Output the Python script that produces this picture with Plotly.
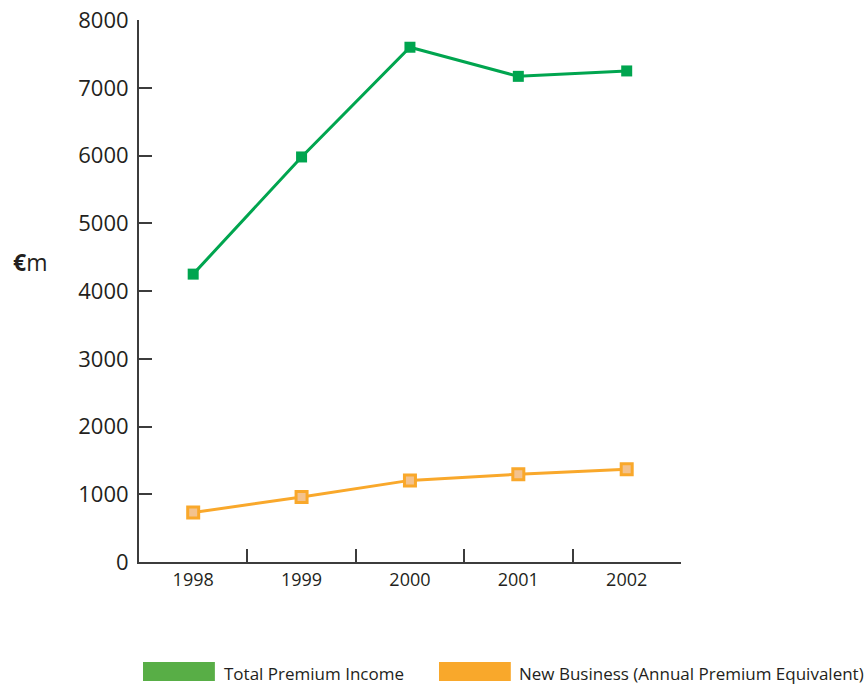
import plotly.graph_objects as go

years = ["1998", "1999", "2000", "2001", "2002"]
total_premium = [4250, 5980, 7600, 7170, 7250]
new_business = [730, 960, 1205, 1295, 1368]
y_ticks = [0, 1000, 2000, 3000, 4000, 5000, 6000, 7000, 8000]

GREEN = "#00A54F"
ORANGE = "#F9A82B"
TEXT = "#231F20"
AXIS = "#3C3C3C"
FONT = "Open Sans"

fig = go.Figure()
fig.add_trace(go.Scatter(
    x=years, y=total_premium, mode="lines+markers", name="Total Premium Income",
    line=dict(color=GREEN, width=3),
    marker=dict(symbol="square", size=11, color=GREEN, line=dict(width=0)),
))
fig.add_trace(go.Scatter(
    x=years, y=new_business, mode="lines+markers",
    name="New Business (Annual Premium Equivalent)",
    line=dict(color=ORANGE, width=3),
    marker=dict(symbol="square", size=11, color="#F3C28E",
                line=dict(width=3, color=ORANGE)),
))

fig.update_layout(
    width=866, height=684,
    margin=dict(l=139, r=185, t=20, b=122),
    paper_bgcolor="white", plot_bgcolor="white",
    showlegend=False,
    font=dict(family=FONT, color=TEXT),
    xaxis=dict(
        type="category", range=[-0.5, 4.501], tickson="boundaries",
        ticks="inside", ticklen=13, tickwidth=2, tickcolor=AXIS,
        showline=True, linewidth=2, linecolor=AXIS, showgrid=False,
        zeroline=False, tickfont=dict(size=18, color=TEXT),
        automargin=False,
    ),
    yaxis=dict(
        range=[0, 8002], tickmode="array", tickvals=y_ticks, ticks="inside",
        ticklen=13, tickwidth=2, tickcolor=AXIS, showline=True, linewidth=2,
        linecolor=AXIS, showgrid=False, zeroline=False,
        tickfont=dict(size=22, color=TEXT), automargin=False,
        ticklabelstandoff=4,
    ),
)

fig.add_annotation(
    text="<b>€</b>m", xref="paper", yref="paper", x=-0.236, y=0.5535,
    xanchor="left", yanchor="middle", showarrow=False,
    font=dict(size=23, color=TEXT, family=FONT),
)

legend_items = [
    ("Total Premium Income", "#58AE46", 0.0074, 0.140, 0.153),
    ("New Business (Annual Premium Equivalent)", ORANGE, 0.5535, 0.686, 0.697),
]
for label, col, x0, x1, xt in legend_items:
    fig.add_shape(type="rect", xref="paper", yref="paper", x0=x0, x1=x1,
                  y0=-0.2196, y1=-0.1845, fillcolor=col, line=dict(width=0))
    fig.add_annotation(text=label, xref="paper", yref="paper", x=xt, y=-0.2048,
                       xanchor="left", yanchor="middle", showarrow=False,
                       font=dict(size=17, color=TEXT, family=FONT))

fig.write_html("out.html")
